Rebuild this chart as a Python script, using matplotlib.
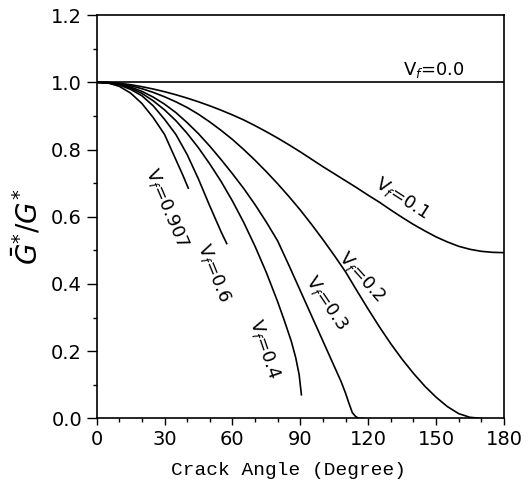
import matplotlib
matplotlib.use("Agg")
import matplotlib.pyplot as plt
from matplotlib.ticker import MultipleLocator

# crack angle (deg) / normalised energy release rate
ang_00 = [0, 180]
g_00 = [1.0, 1.0]

ang_01 = [0, 5, 10, 15, 20, 25, 30, 35, 40, 45, 50, 55, 60, 65, 70, 75, 80, 85, 90,
          95, 100, 105, 110, 115, 120, 125, 130, 135, 140, 145, 150, 155, 160, 165,
          170, 175, 180]
g_01 = [1.0, 0.9995, 0.997, 0.993, 0.987, 0.98, 0.972, 0.963, 0.953, 0.942, 0.93,
        0.917, 0.903, 0.888, 0.871, 0.853, 0.834, 0.814, 0.793, 0.771, 0.749, 0.728,
        0.707, 0.686, 0.664, 0.643, 0.62, 0.598, 0.577, 0.558, 0.54, 0.525, 0.512,
        0.503, 0.497, 0.494, 0.493]

ang_02 = [0, 5, 10, 15, 20, 25, 30, 35, 40, 45, 50, 55, 60, 65, 70, 75, 80, 85, 90,
          95, 100, 105, 110, 115, 120, 125, 130, 135, 140, 145, 150, 155, 160, 165, 170]
g_02 = [1.0, 0.999, 0.996, 0.99, 0.981, 0.97, 0.957, 0.942, 0.925, 0.905, 0.882,
        0.857, 0.83, 0.8, 0.768, 0.734, 0.698, 0.66, 0.62, 0.577, 0.532, 0.485, 0.436,
        0.38, 0.325, 0.272, 0.222, 0.176, 0.134, 0.096, 0.063, 0.035, 0.014, 0.003, 0.0]

ang_03 = [0, 5, 10, 15, 20, 25, 30, 35, 40, 45, 50, 55, 60, 65, 70, 75, 80, 85, 90,
          95, 100, 105, 108, 110, 111.5, 113, 114.5, 116, 118]
g_03 = [1.0, 0.999, 0.995, 0.986, 0.973, 0.956, 0.935, 0.91, 0.88, 0.847, 0.81, 0.77,
        0.728, 0.684, 0.636, 0.584, 0.528, 0.455, 0.38, 0.305, 0.23, 0.155, 0.11,
        0.075, 0.045, 0.017, 0.005, 0.0, 0.0]

ang_04 = [0, 5, 10, 15, 20, 25, 30, 35, 40, 45, 50, 55, 60, 65, 70, 75, 80, 83, 86,
          88, 89.5, 90.5]
g_04 = [1.0, 0.999, 0.994, 0.983, 0.967, 0.945, 0.918, 0.886, 0.848, 0.805, 0.757,
        0.705, 0.647, 0.583, 0.512, 0.434, 0.347, 0.29, 0.23, 0.18, 0.13, 0.07]

ang_06 = [0, 5, 10, 15, 20, 25, 30, 35, 40, 45, 50, 55, 57.5]
g_06 = [1.0, 0.998, 0.992, 0.979, 0.96, 0.93, 0.89, 0.845, 0.785, 0.712, 0.632, 0.555,
        0.52]

ang_0907 = [0, 5, 10, 15, 20, 25, 30, 35, 38, 40.5]
g_0907 = [1.0, 0.998, 0.988, 0.968, 0.937, 0.895, 0.845, 0.77, 0.725, 0.685]

curves = [
    (ang_00, g_00), (ang_01, g_01), (ang_02, g_02), (ang_03, g_03),
    (ang_04, g_04), (ang_06, g_06), (ang_0907, g_0907),
]

# label text, position (deg, value), rotation
labels = [
    (r"V$_f$=0.0", 149, 1.036, 0),
    (r"V$_f$=0.1", 135, 0.655, -33),
    (r"V$_f$=0.2", 117, 0.42, -48),
    (r"V$_f$=0.3", 101.5, 0.343, -56),
    (r"V$_f$=0.4", 74, 0.207, -71),
    (r"V$_f$=0.6", 52, 0.434, -68),
    (r"V$_f$=0.907", 31, 0.627, -67),
]

fig = plt.figure(figsize=(5.31, 4.87), dpi=100)
ax = fig.add_axes([0.182, 0.141, 0.767, 0.828])

for x, y in curves:
    ax.plot(x, y, color='black', lw=1.2)

for txt, x, y, rot in labels:
    ax.text(x, y, txt, rotation=rot, fontsize=13, ha='center', va='center',
            rotation_mode='anchor')

ax.set_xlim(0, 180)
ax.set_ylim(0, 1.2)
ax.xaxis.set_major_locator(MultipleLocator(30))
ax.xaxis.set_minor_locator(MultipleLocator(10))
ax.yaxis.set_major_locator(MultipleLocator(0.2))
ax.yaxis.set_minor_locator(MultipleLocator(0.1))
ax.yaxis.set_major_formatter(plt.FormatStrFormatter('%.1f'))
ax.tick_params(which='both', direction='out', width=1, labelsize=14)
ax.tick_params(axis='x', which='major', length=5)
ax.tick_params(axis='y', which='major', length=7)
ax.tick_params(which='minor', length=3)
for s in ax.spines.values():
    s.set_linewidth(1.2)

ax.set_xlabel("Crack Angle (Degree)", fontsize=14, family='Liberation Mono')
ax.xaxis.set_label_coords(0.472, -0.108)
ax.set_ylabel(r"$\bar{G}^{*}/G^{*}$", fontsize=20)
ax.yaxis.set_label_coords(-0.13, 0.475)

fig.savefig("out.png", dpi=100)
